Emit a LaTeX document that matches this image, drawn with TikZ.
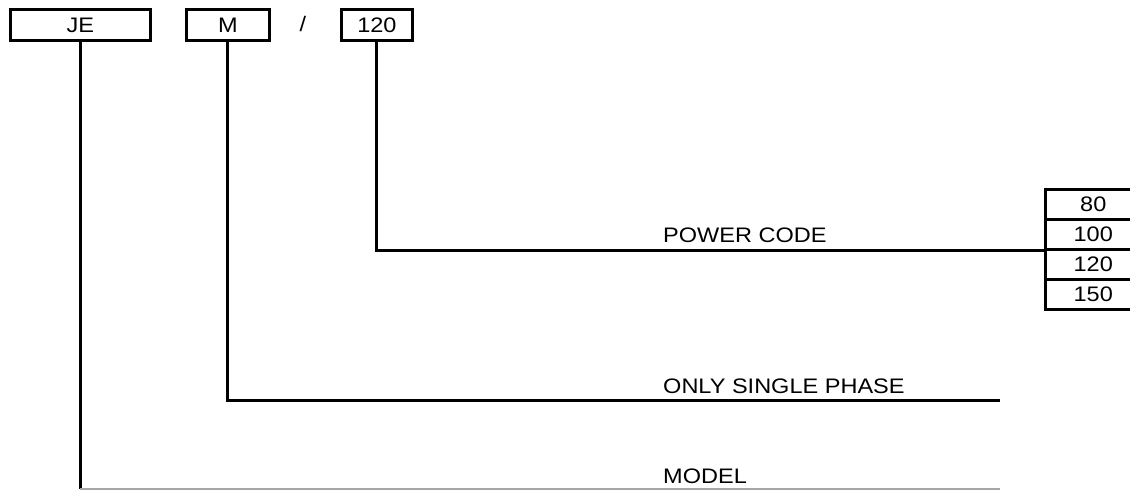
\documentclass[tikz,border=0pt]{standalone}
\usepackage{fontspec}
\setmainfont[FakeStretch=1.12]{Liberation Sans}
\begin{document}
\begin{tikzpicture}[x=1pt,y=-1pt,
  codebox/.style={draw,line width=2.8pt,minimum height=31pt,inner sep=0pt,anchor=north west,font=\fontsize{21}{22}\selectfont},
  valbox/.style={draw,line width=2.5pt,minimum width=96pt,minimum height=30pt,inner sep=0pt,anchor=north west,font=\fontsize{21}{22}\selectfont},
  lbl/.style={anchor=base west,inner sep=0pt,font=\fontsize{21}{22}\selectfont},
  conn/.style={line width=3pt},
  thinconn/.style={line width=1.5pt,gray!70}]
\useasboundingbox (0,0) rectangle (1130,490);
\clip (0,0) rectangle (1130,490);
% top code boxes
\node[codebox,minimum width=140pt] (je) at (9,8) {JE};
\node[codebox,minimum width=83pt] (m) at (185,8) {M};
\node[lbl,anchor=base] (slash) at (303,31) {/};
\node[codebox,minimum width=71pt] (p120) at (340,8) {120};
% value boxes
\node[valbox] (c80) at (1044,188) {80};
\node[valbox] (c100) at (1044,218) {100};
\node[valbox] (c120) at (1044,248) {120};
\node[valbox] (c150) at (1044,278) {150};
% labels
\node[lbl] (lpower) at (663,242) {POWER CODE};
\node[lbl] (lphase) at (663,393) {ONLY SINGLE PHASE};
\node[lbl] (lmodel) at (663,483) {MODEL};
% free ends
\coordinate (ephase) at (1000,400);
\coordinate (emodel) at (1000,489);
% connectors
\draw[conn] (p120.south) |- (c100.south west);
\draw[conn] (m.south) |- (ephase);
\draw[conn] (je.south) -- (je.south |- emodel);
\draw[thinconn] (je.south |- emodel) -- (emodel);
\end{tikzpicture}
\end{document}
